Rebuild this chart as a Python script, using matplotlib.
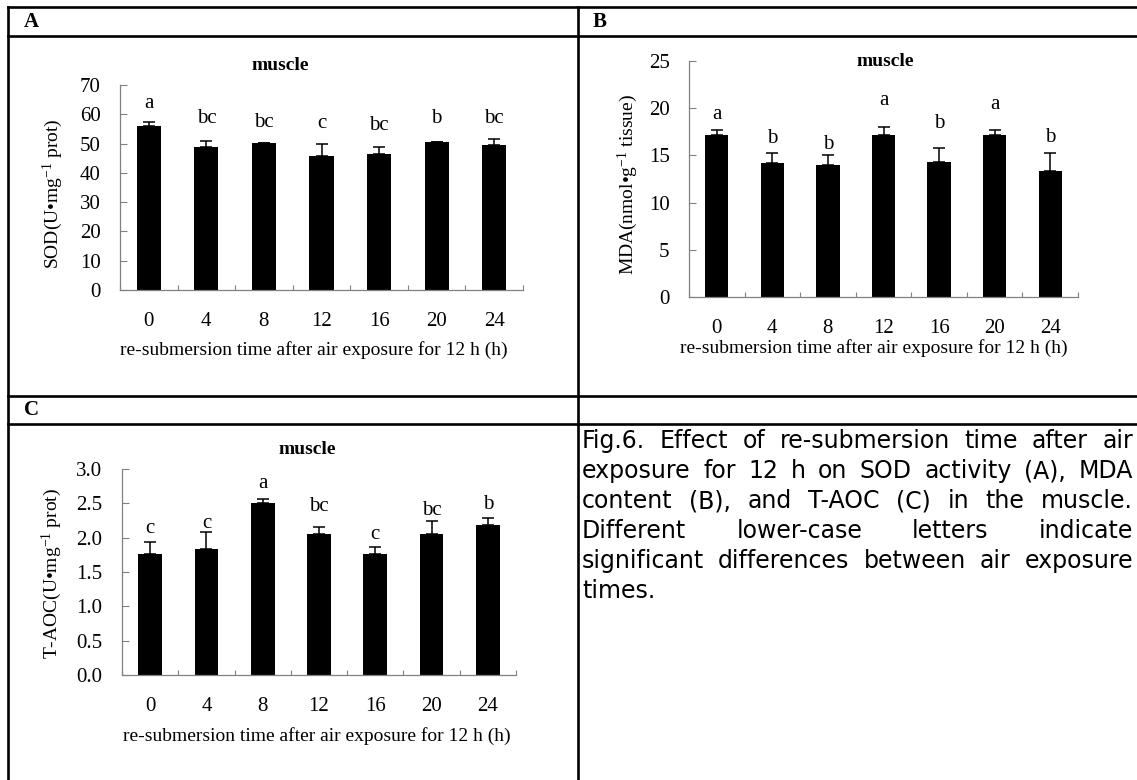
import numpy as np
import matplotlib
matplotlib.use('Agg')
import matplotlib.pyplot as plt
from matplotlib.lines import Line2D
from matplotlib.ticker import FixedLocator, NullFormatter, FormatStrFormatter

plt.rcParams['font.family'] = ['Liberation Serif', 'DejaVu Serif']
plt.rcParams['mathtext.fontset'] = 'custom'
plt.rcParams['mathtext.rm'] = 'Liberation Serif'
plt.rcParams['mathtext.it'] = 'Liberation Serif:italic'
plt.rcParams['mathtext.bf'] = 'Liberation Serif:bold'

W, H = 1137, 780

# data
times = ['0', '4', '8', '12', '16', '20', '24']

sod = [55.9, 48.8, 50.1, 45.7, 46.6, 50.6, 49.6]
sod_err = [1.6, 2.1, 0.0, 4.3, 2.1, 0.0, 2.0]
sod_letters = ['a', 'bc', 'bc', 'c', 'bc', 'b', 'bc']
sod_letter_y = [63.8, 58.4, 57.1, 56.9, 56.3, 58.6, 58.4]

mda = [17.2, 14.2, 14.0, 17.2, 14.3, 17.2, 13.4]
mda_err = [0.45, 1.1, 1.0, 0.85, 1.5, 0.45, 1.9]
mda_letters = ['a', 'b', 'b', 'a', 'b', 'a', 'b']
mda_letter_y = [19.35, 16.8, 16.2, 20.8, 18.4, 20.4, 16.85]

taoc = [1.76, 1.84, 2.51, 2.05, 1.76, 2.05, 2.18]
taoc_err = [0.17, 0.24, 0.06, 0.11, 0.11, 0.20, 0.10]
taoc_letters = ['c', 'c', 'a', 'bc', 'c', 'bc', 'b']
taoc_letter_y = [2.14, 2.20, 2.79, 2.45, 2.05, 2.40, 2.48]

xlabel = 're-submersion time after air exposure for 12 h (h)'

caption = [
    ('Fig.6. Effect of re-submersion time after air', True),
    ('exposure for 12 h on SOD activity (A), MDA', True),
    ('content (B), and T-AOC (C) in the muscle.', True),
    ('Different lower-case letters indicate', True),
    ('significant differences between air exposure', True),
    ('times.', False),
]

fig = plt.figure(figsize=(W / 100, H / 100), dpi=100)
fig.patch.set_facecolor('white')


def px_rect(x0, y0, x1, y1):
    return [x0 / W, 1 - y1 / H, (x1 - x0) / W, (y1 - y0) / H]


def panel(rect, vals, errs, letters, letter_y, ymax, ystep, fmt, ylab, ylab_pos, xlab_pos, title_px):
    ax = fig.add_axes(px_rect(*rect))
    x = np.arange(len(times))
    ax.bar(x, vals, width=0.42, color='black', zorder=2)
    ax.errorbar(x, vals, yerr=[np.zeros(len(vals)), errs], fmt='none',
                ecolor='black', elinewidth=1.1, capsize=4, capthick=1.1, zorder=3)
    for xi, lt, ly in zip(x, letters, letter_y):
        ax.text(xi, ly, lt, ha='center', va='center', fontsize=15)
    ax.set_xlim(-0.5, len(times) - 0.5)
    ax.set_ylim(0, ymax)
    ax.set_yticks(np.arange(0, ymax + ystep / 2, ystep))
    ax.yaxis.set_major_formatter(FormatStrFormatter(fmt))
    ax.set_xticks(x)
    ax.set_xticklabels(times)
    ax.xaxis.set_minor_locator(FixedLocator(np.arange(-0.5, len(times), 1.0)))
    ax.xaxis.set_minor_formatter(NullFormatter())
    for s in ['top', 'right']:
        ax.spines[s].set_visible(False)
    for s in ['left', 'bottom']:
        ax.spines[s].set_color('#808080')
        ax.spines[s].set_linewidth(0.9)
    ax.tick_params(axis='x', which='major', length=0, pad=16, labelsize=15)
    ax.tick_params(axis='x', which='minor', direction='in', length=3.5,
                   color='#808080', width=0.8)
    ax.tick_params(axis='y', direction='in', length=5, color='#808080',
                   width=0.8, pad=14, labelsize=15)
    ax.set_ylabel(ylab, fontsize=14)
    ax.yaxis.label.set_va('center')
    ax.yaxis.set_label_coords(*ylab_pos)
    ax.set_xlabel(xlabel, fontsize=14)
    ax.xaxis.label.set_va('center')
    ax.xaxis.set_label_coords(*xlab_pos)
    fig.text(title_px[0] / W, 1 - title_px[1] / H, 'muscle', ha='center',
             va='center', fontsize=14, fontweight='bold')
    return ax


panel((120, 85, 523, 290), sod, sod_err, sod_letters, sod_letter_y, 70, 10, '%d',
      'SOD(U\u2022mg$^{-1}$ prot)', (-0.166, 0.47), (0.48, -0.293), (280, 66))
panel((689, 61, 1078, 297), mda, mda_err, mda_letters, mda_letter_y, 25, 5, '%d',
      'MDA(nmol\u2022g$^{-1}$ tissue)', (-0.157, 0.475), (0.476, -0.216), (885, 62))
panel((122, 469, 516, 675), taoc, taoc_err, taoc_letters, taoc_letter_y, 3.0, 0.5, '%.1f',
      'T-AOC(U\u2022mg$^{-1}$ prot)', (-0.178, 0.495), (0.495, -0.296), (307, 450))

# table grid
lw = 1.9
def hline(y, x0=8, x1=W):
    fig.add_artist(Line2D([x0 / W, x1 / W], [1 - y / H, 1 - y / H],
                          transform=fig.transFigure, color='black', lw=lw))
def vline(x, y0=7, y1=H):
    fig.add_artist(Line2D([x / W, x / W], [1 - y0 / H, 1 - y1 / H],
                          transform=fig.transFigure, color='black', lw=lw))

for y in [7, 36, 396, 424]:
    hline(y)
vline(8)
vline(578)

for lab, (lx, ly) in zip(['A', 'B', 'C'], [(24, 22), (593, 22), (24, 410)]):
    fig.text(lx / W, 1 - ly / H, lab, ha='left', va='center', fontsize=15,
             fontweight='bold')

# justified caption
fig.canvas.draw()
r = fig.canvas.get_renderer()
cx0, cx1 = 582, 1133
base0, dy = 448, 30
for i, (line, just) in enumerate(caption):
    words = line.split(' ')
    yb = 1 - (base0 + i * dy) / H
    ts = [fig.text(0, yb, w, fontsize=17, family='DejaVu Sans', va='baseline',
                   color='black') for w in words]
    ws = [t.get_window_extent(r).width for t in ts]
    if just and len(words) > 1:
        gap = (cx1 - cx0 - sum(ws)) / (len(words) - 1)
    else:
        gap = 8
    xx = cx0
    for t, w in zip(ts, ws):
        t.set_x(xx / W)
        xx += w + gap

fig.savefig('out.png', dpi=100)
